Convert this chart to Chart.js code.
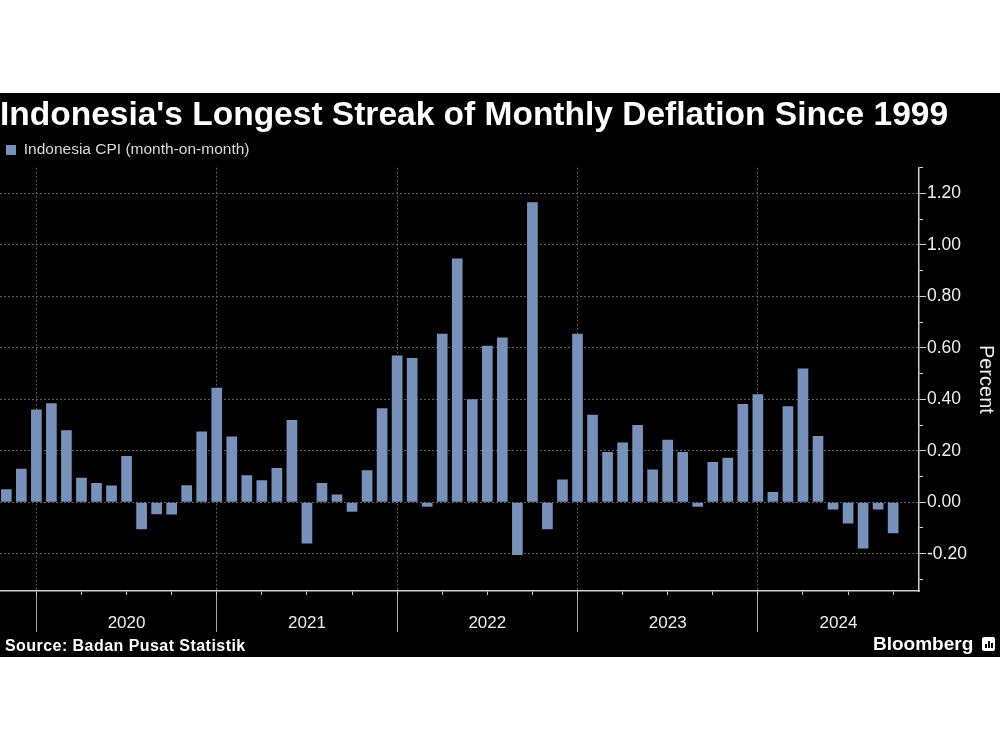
<!DOCTYPE html>
<html>
<head>
<meta charset="utf-8">
<script src="https://cdn.jsdelivr.net/npm/chart.js@4.4.0/dist/chart.umd.min.js"></script>
<style>
  body { margin: 0; background: #fff; width: 1000px; height: 750px; position: relative; overflow: hidden;
         font-family: "Liberation Sans", Arial, sans-serif; }
  #wrap { position: absolute; left: 0; top: 93px; width: 1000px; height: 564px; background: #000; }
  #source { position: absolute; left: 5px; top: 638px; color: #fff; font-weight: bold; font-size: 16px; line-height: 16px; letter-spacing: 0.45px; }
  #brand { position: absolute; left: 873px; top: 634px; color: #fff; font-weight: bold; font-size: 19px; line-height: 19px; }
  #logo { position: absolute; left: 982px; top: 637px; width: 13px; height: 14px; background: #fff; border-radius: 2px;
          display: flex; align-items: flex-end; justify-content: center; gap: 1px; box-sizing: border-box; padding-bottom: 3px; }
  #logo span { display: block; width: 2px; background: #000; }
</style>
</head>
<body>
<div id="wrap"><canvas id="myChart" width="1000" height="564"></canvas></div>
<div id="source">Source: Badan Pusat Statistik</div>
<div id="brand">Bloomberg</div>
<div id="logo"><span style="height:4px"></span><span style="height:7px"></span><span style="height:5px"></span></div>
<script>
// Monthly categories, Oct 2019 - Sep 2024
const months = [
  "2019-10", "2019-11", "2019-12",
  "2020-01", "2020-02", "2020-03", "2020-04", "2020-05", "2020-06", "2020-07", "2020-08", "2020-09", "2020-10", "2020-11", "2020-12",
  "2021-01", "2021-02", "2021-03", "2021-04", "2021-05", "2021-06", "2021-07", "2021-08", "2021-09", "2021-10", "2021-11", "2021-12",
  "2022-01", "2022-02", "2022-03", "2022-04", "2022-05", "2022-06", "2022-07", "2022-08", "2022-09", "2022-10", "2022-11", "2022-12",
  "2023-01", "2023-02", "2023-03", "2023-04", "2023-05", "2023-06", "2023-07", "2023-08", "2023-09", "2023-10", "2023-11", "2023-12",
  "2024-01", "2024-02", "2024-03", "2024-04", "2024-05", "2024-06", "2024-07", "2024-08", "2024-09"
];

// Indonesia CPI, month-on-month %
const cpiMoM = [
  0.05, 0.13, 0.36,
  0.385, 0.28, 0.095, 0.075, 0.065, 0.18, -0.105, -0.047, -0.048, 0.066, 0.275, 0.445,
  0.255, 0.105, 0.085, 0.133, 0.32, -0.16, 0.075, 0.03, -0.037, 0.124, 0.365, 0.57,
  0.56, -0.018, 0.655, 0.947, 0.40, 0.608, 0.64, -0.205, 1.166, -0.105, 0.088, 0.655,
  0.34, 0.195, 0.232, 0.30, 0.127, 0.243, 0.195, -0.018, 0.156, 0.173, 0.382, 0.42,
  0.04, 0.373, 0.52, 0.257, -0.028, -0.083, -0.18, -0.028, -0.121
];

const yearLabels = ["2020", "2021", "2022", "2023", "2024"];
const yTickLabels = [-0.2, 0, 0.2, 0.4, 0.6, 0.8, 1.0, 1.2];
const yMinorTicks = [-0.3, -0.2, -0.1, 0, 0.1, 0.2, 0.3, 0.4, 0.5, 0.6, 0.7, 0.8, 0.9, 1.0, 1.1, 1.2, 1.3];

const barColor = "#7891bb";
const gridColor = "#5f5f5f";
const axisColor = "#cfcfcf";
const textColor = "#eeeeee";
const FONT = '"Liberation Sans", Arial, sans-serif';

const xMin = -0.42, xMax = 60.72;
const yMin = -0.345, yMax = 1.30;

// year boundaries sit on the December bars, quarter ticks on Mar/Jun/Sep/Dec
const yearEnds = [];
const quarterTicks = [];
months.forEach((m, i) => {
  const mm = m.slice(5);
  if (mm === "12") yearEnds.push(i);
  if (["03", "06", "09", "12"].includes(mm)) quarterTicks.push(i);
});
const yearTicks = [];
yearEnds.forEach((b, k) => {
  yearTicks.push({ value: b, label: "" });
  const next = k + 1 < yearEnds.length ? yearEnds[k + 1] : xMax;
  yearTicks.push({ value: (b + next) / 2, label: yearLabels[k] });
});

Chart.defaults.font.family = FONT;

const ctx = document.getElementById("myChart").getContext("2d");
const myChart = new Chart(ctx, {
  type: "bar",
  data: {
    datasets: [{
      label: "Indonesia CPI (month-on-month)",
      data: cpiMoM.map((v, i) => ({ x: i, y: v })),
      backgroundColor: barColor,
      borderWidth: 0,
      barPercentage: 0.71,
      categoryPercentage: 1,
      xAxisID: "x",
      yAxisID: "y"
    }]
  },
  options: {
    responsive: false,
    animation: false,
    layout: { padding: 0 },
    plugins: {
      title: {
        display: true,
        text: "Indonesia's Longest Streak of Monthly Deflation Since 1999",
        align: "start",
        color: "#ffffff",
        font: { size: 33.5, weight: "bold" },
        padding: { top: 3, bottom: 0 }
      },
      legend: {
        display: true,
        align: "start",
        labels: {
          color: "#d8d8d8",
          font: { size: 15.5 },
          boxWidth: 10,
          boxHeight: 10,
          padding: 6
        }
      },
      tooltip: { enabled: false }
    },
    scales: {
      x: {
        type: "linear",
        position: "bottom",
        weight: 0,
        min: xMin,
        max: xMax,
        offset: false,
        afterBuildTicks: (s) => { s.ticks = quarterTicks.map(v => ({ value: v })); },
        afterFit: (s) => { s.height = 4; },
        grid: {
          offset: false,
          drawOnChartArea: true,
          color: (c) => (c.tick && yearEnds.includes(c.tick.value)) ? gridColor : "rgba(0,0,0,0)",
          lineWidth: 1,
          tickLength: 4,
          tickColor: axisColor,
          tickWidth: 1
        },
        border: { display: true, color: axisColor, width: 1.5, dash: [2, 2] },
        ticks: { display: false }
      },
      xYear: {
        type: "linear",
        position: "bottom",
        weight: 1,
        min: xMin,
        max: xMax,
        offset: false,
        afterBuildTicks: (s) => { s.ticks = yearTicks.map(t => ({ value: t.value })); },
        afterFit: (s) => { s.height = 62; },
        grid: {
          offset: false,
          drawOnChartArea: false,
          color: "rgba(0,0,0,0)",
          tickLength: 37,
          tickWidth: 1,
          tickColor: (c) => (c.tick && yearEnds.includes(c.tick.value)) ? "#a8a8a8" : "rgba(0,0,0,0)"
        },
        border: { display: false },
        ticks: {
          autoSkip: false,
          maxRotation: 0,
          color: textColor,
          font: { size: 17 },
          padding: -19,
          callback: (v, i) => yearTicks[i] ? yearTicks[i].label : ""
        }
      },
      yMinor: {
        type: "linear",
        position: "right",
        weight: 0,
        min: yMin,
        max: yMax,
        afterBuildTicks: (s) => { s.ticks = yMinorTicks.map(v => ({ value: v })); },
        afterFit: (s) => { s.width = 4; },
        grid: { drawOnChartArea: false, color: axisColor, tickLength: 4, tickColor: axisColor, tickWidth: 1 },
        border: { display: true, color: axisColor, width: 1.5 },
        ticks: { display: false }
      },
      y: {
        type: "linear",
        position: "right",
        weight: 1,
        min: yMin,
        max: yMax,
        afterBuildTicks: (s) => { s.ticks = yTickLabels.map(v => ({ value: v })); },
        afterFit: (s) => { s.width = 77; },
        grid: {
          drawOnChartArea: true,
          color: gridColor,
          lineWidth: 1,
          tickLength: 3,
          tickColor: axisColor,
          tickWidth: 1
        },
        border: { display: false, dash: [2, 2] },
        ticks: {
          color: textColor,
          font: { size: 17.5 },
          padding: 1,
          callback: (v) => Number(v).toFixed(2)
        },
        title: {
          display: true,
          text: "Percent",
          color: textColor,
          font: { size: 20 },
          padding: { top: 2, bottom: 0 }
        }
      }
    }
  }
});
</script>
</body>
</html>
